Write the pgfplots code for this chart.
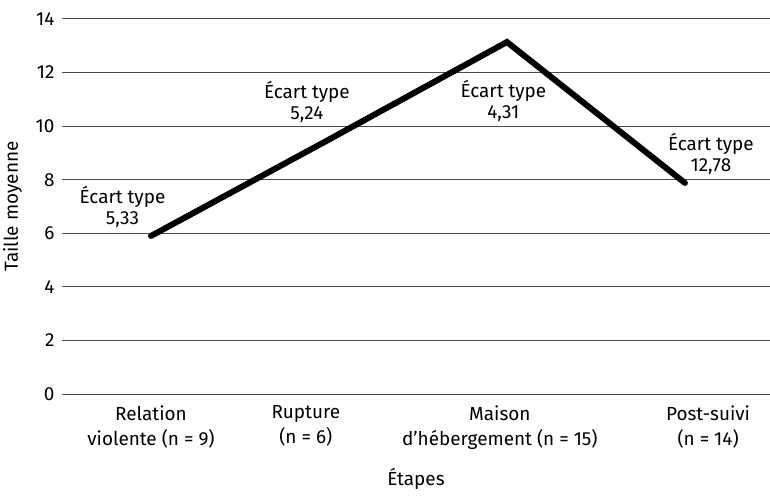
\documentclass[border=0pt]{standalone}
\usepackage{fontspec}
\setmainfont{Fira Sans}
\usepackage{pgfplots}
\pgfplotsset{compat=1.18}
\begin{document}
\begin{tikzpicture}[font=\fontsize{19}{21}\selectfont]
\begin{axis}[
  scale only axis,
  width=708bp, height=375bp,
  xmin=-0.5, xmax=3.478,
  ymin=0, ymax=14,
  ytick={0,2,...,14},
  xtick={0,0.87,1.96,3.13},
  xticklabels={{Relation\\violente (n = 9)},{Rupture\\(n = 6)},{Maison\\d’hébergement (n = 15)},{Post-suivi\\(n = 14)}},
  xticklabel style={align=center, font=\fontsize{19}{25}\selectfont, yshift=-8bp},
  yticklabel style={xshift=-4bp},
  tick label style={font=\fontsize{19}{25}\selectfont},
  label style={font=\fontsize{19}{21}\selectfont},
  /pgf/number format/assume math mode=true,
  axis line style={draw=none},
  major tick length=0pt,
  ymajorgrids,
  grid style={black!70, line width=1bp},
  xlabel={Étapes},
  ylabel={Taille moyenne},
  xlabel style={at={(axis description cs:0.5,0)}, anchor=north, inner sep=0pt, yshift=-74bp},
  ylabel style={at={(axis description cs:0,0.5)}, anchor=south, inner sep=0pt, yshift=40bp},
  clip=false,
]
\addplot[black, line width=6bp, line cap=round, line join=miter] coordinates {
  (0,5.9) (1,9.5) (2,13.14) (3,7.88)
};
\node[align=center] at (axis cs:-0.16,6.98) {Écart type\\5,33};
\node[align=center] at (axis cs:0.876,10.9) {Écart type\\5,24};
\node[align=center] at (axis cs:1.98,10.94) {Écart type\\4,31};
\node[align=center] at (axis cs:3.146,8.96) {Écart type\\12,78};
\coordinate (bl) at (rel axis cs:0,0);
\coordinate (tr) at (rel axis cs:1,1);
\end{axis}
\pgfresetboundingbox
\path (bl) ++(-62bp,-105bp) coordinate (a);
\path (tr) ++(0bp,19bp) coordinate (b);
\path[use as bounding box] (a) rectangle (b);
\end{tikzpicture}
\end{document}
